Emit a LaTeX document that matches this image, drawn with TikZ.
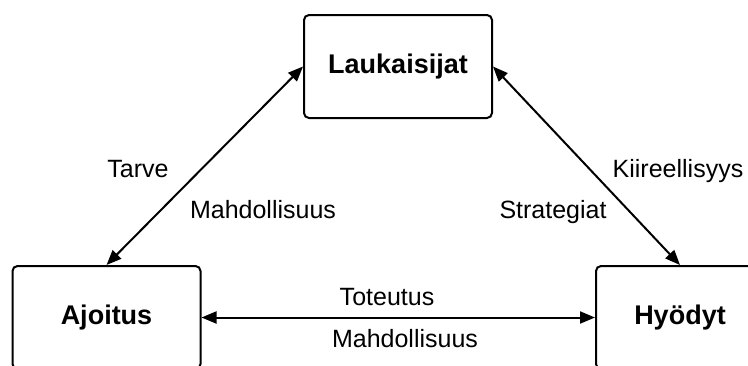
\documentclass[tikz,border=0pt]{standalone}
\usepackage{fontspec}
\setmainfont{Liberation Sans}
\usetikzlibrary{arrows.meta}
\begin{document}
\begin{tikzpicture}[x=1pt,y=-1pt]
\tikzset{laatikko/.style={draw, line width=2pt, rounded corners=5pt, minimum width=188pt, minimum height=103pt, font=\fontsize{27}{32}\selectfont\bfseries}}
\tikzset{teksti/.style={anchor=base, font=\fontsize{25}{30}\selectfont}}
\tikzset{nuoli/.style={line width=2pt, {Triangle[length=15pt,width=12pt]}-{Triangle[length=15pt,width=12pt]}}}
\clip (0,0) rectangle (748,365);
\node[laatikko] (L) at (398,66.5) {Laukaisijat};
\node[laatikko] (A) at (106.5,317.5) {Ajoitus};
\node[laatikko, minimum width=168pt] (H) at (680,317.5) {Hyödyt};
\draw[nuoli] (A.north) -- (L.west);
\draw[nuoli] (L.east) -- (H.north);
\draw[nuoli] (A.east) -- (H.west);
\node[teksti] (tarve) at (138,177) {Tarve};
\node[teksti] (mahd1) at (263,218) {Mahdollisuus};
\node[teksti] (kiire) at (678,177) {Kiireellisyys};
\node[teksti] (strat) at (553,218) {Strategiat};
\node[teksti] (toteu) at (387,305) {Toteutus};
\node[teksti] (mahd2) at (405,347) {Mahdollisuus};
\end{tikzpicture}
\end{document}
